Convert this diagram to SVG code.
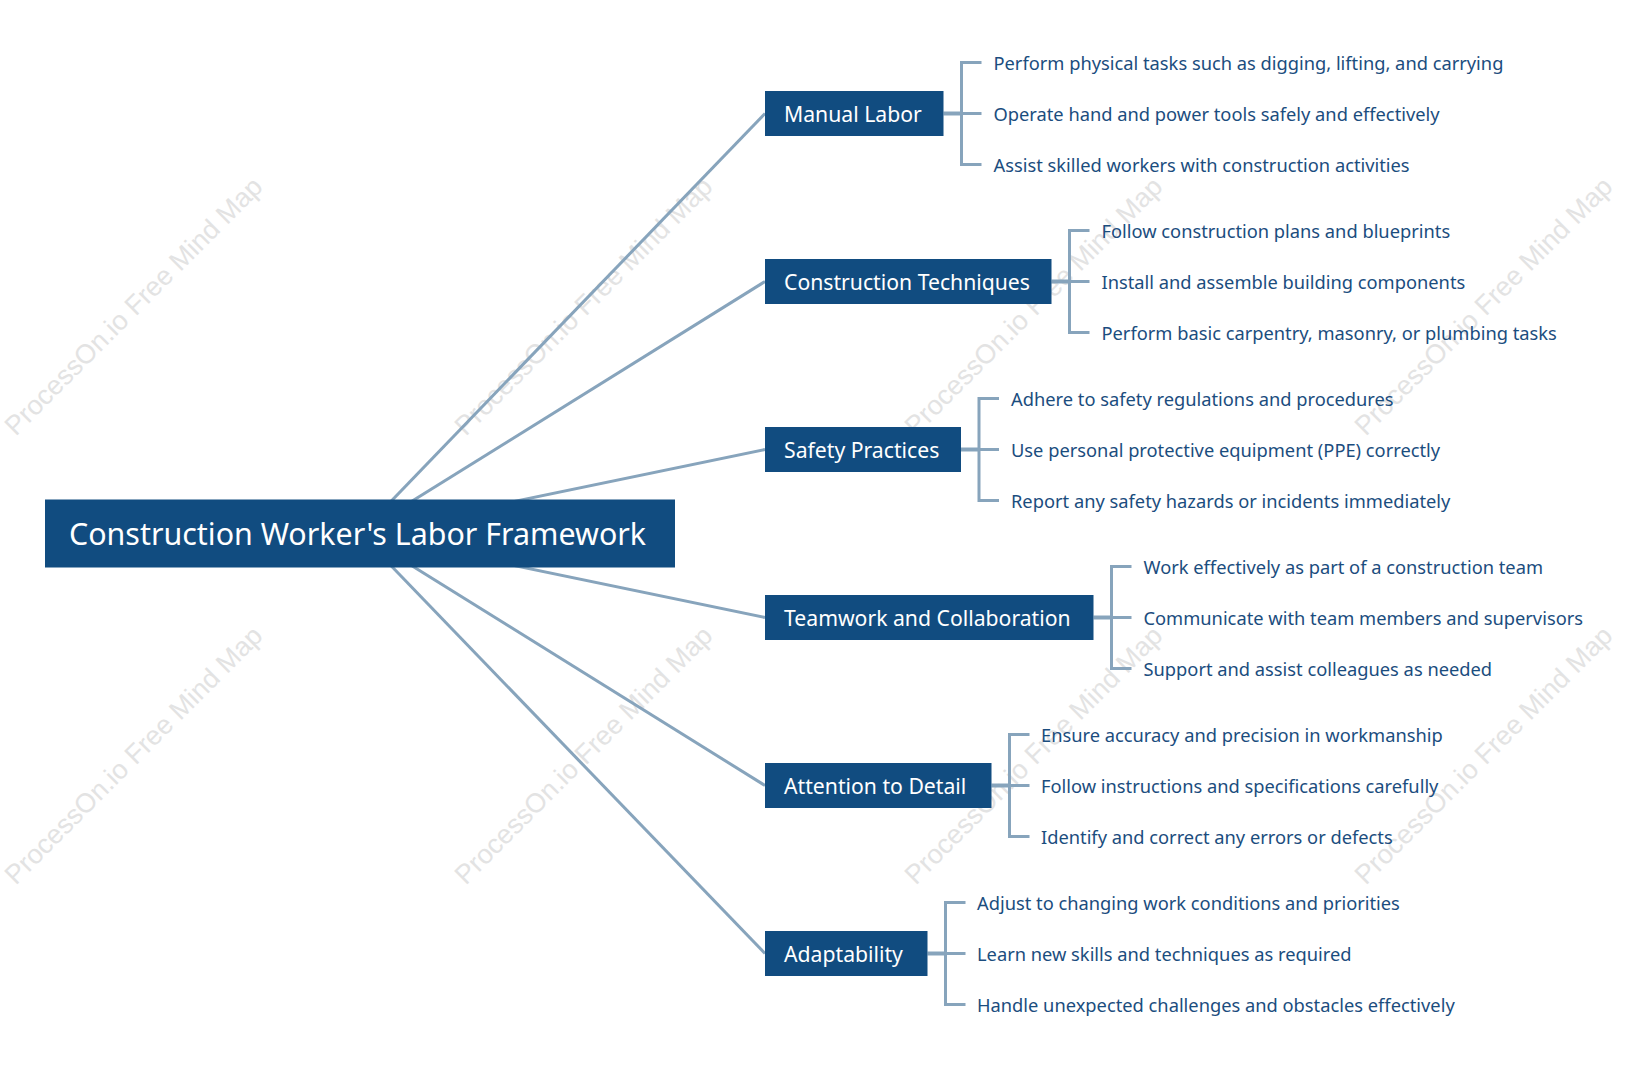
<svg xmlns="http://www.w3.org/2000/svg" width="1645" height="1083" viewBox="0 0 1645 1083">
<style>
.wm{font-family:"Liberation Sans",Arial,sans-serif;font-size:27px;fill:#e3e3e3}
.main{fill:none;stroke:#87a4bc;stroke-width:3}
.br{fill:none;stroke:#87a4bc;stroke-width:3}
.st{fill:none;stroke:#87a4bc;stroke-width:4}
.nb{fill:#114c80}
.nt{font-family:"Noto Sans","Open Sans",sans-serif;font-size:21.2px;fill:#ffffff;dominant-baseline:central}
.rt{font-family:"Noto Sans","Open Sans",sans-serif;font-size:30.4px;fill:#ffffff;dominant-baseline:central}
.lt{font-family:"Noto Sans","Open Sans",sans-serif;font-size:18.3px;fill:#1b4d7e;dominant-baseline:central}
</style>
<rect width="1645" height="1083" fill="#ffffff"/>
<g id="watermarks">
<text class="wm" text-anchor="middle" transform="translate(140,312.5) rotate(-45)">ProcessOn.io Free Mind Map</text>
<text class="wm" text-anchor="middle" transform="translate(590,312.5) rotate(-45)">ProcessOn.io Free Mind Map</text>
<text class="wm" text-anchor="middle" transform="translate(1040,312.5) rotate(-45)">ProcessOn.io Free Mind Map</text>
<text class="wm" text-anchor="middle" transform="translate(1490,312.5) rotate(-45)">ProcessOn.io Free Mind Map</text>
<text class="wm" text-anchor="middle" transform="translate(140,761.5) rotate(-45)">ProcessOn.io Free Mind Map</text>
<text class="wm" text-anchor="middle" transform="translate(590,761.5) rotate(-45)">ProcessOn.io Free Mind Map</text>
<text class="wm" text-anchor="middle" transform="translate(1040,761.5) rotate(-45)">ProcessOn.io Free Mind Map</text>
<text class="wm" text-anchor="middle" transform="translate(1490,761.5) rotate(-45)">ProcessOn.io Free Mind Map</text>
</g>
<g id="connectors">
<path class="main" d="M360 533.5 L765 113.5"/>
<path class="main" d="M360 533.5 L765 281.5"/>
<path class="main" d="M360 533.5 L765 449.5"/>
<path class="main" d="M360 533.5 L765 617.5"/>
<path class="main" d="M360 533.5 L765 785.5"/>
<path class="main" d="M360 533.5 L765 953.5"/>
<path class="st" d="M943.5 113.5 H961.5"/>
<path class="br" d="M961.5 113.5 H981.5 M981.5 62.5 H961.5 V164.5 H981.5"/>
<path class="st" d="M1051.5 281.5 H1069.5"/>
<path class="br" d="M1069.5 281.5 H1089.5 M1089.5 230.5 H1069.5 V332.5 H1089.5"/>
<path class="st" d="M961 449.5 H979"/>
<path class="br" d="M979 449.5 H999 M999 398.5 H979 V500.5 H999"/>
<path class="st" d="M1093.5 617.5 H1111.5"/>
<path class="br" d="M1111.5 617.5 H1131.5 M1131.5 566.5 H1111.5 V668.5 H1131.5"/>
<path class="st" d="M991.5 785.5 H1009.5"/>
<path class="br" d="M1009.5 785.5 H1029.5 M1029.5 734.5 H1009.5 V836.5 H1029.5"/>
<path class="st" d="M927.5 953.5 H945.5"/>
<path class="br" d="M945.5 953.5 H965.5 M965.5 902.5 H945.5 V1004.5 H965.5"/>
</g>
<g id="root">
<rect class="nb" x="45" y="499.5" width="630" height="68"/>
<text class="rt" x="69" y="533.5">Construction Worker's Labor Framework</text>
</g>
<g id="manual-labor">
<rect class="nb" x="765" y="91" width="178.5" height="45"/>
<text class="nt" x="784" y="113.5">Manual Labor</text>
<text class="lt" x="993.5" y="62.5">Perform physical tasks such as digging, lifting, and carrying</text>
<text class="lt" x="993.5" y="113.5">Operate hand and power tools safely and effectively</text>
<text class="lt" x="993.5" y="164.5">Assist skilled workers with construction activities</text>
</g>
<g id="construction-techniques">
<rect class="nb" x="765" y="259" width="286.5" height="45"/>
<text class="nt" x="784" y="281.5">Construction Techniques</text>
<text class="lt" x="1101.5" y="230.5">Follow construction plans and blueprints</text>
<text class="lt" x="1101.5" y="281.5">Install and assemble building components</text>
<text class="lt" x="1101.5" y="332.5">Perform basic carpentry, masonry, or plumbing tasks</text>
</g>
<g id="safety-practices">
<rect class="nb" x="765" y="427" width="196" height="45"/>
<text class="nt" x="784" y="449.5">Safety Practices</text>
<text class="lt" x="1011" y="398.5">Adhere to safety regulations and procedures</text>
<text class="lt" x="1011" y="449.5">Use personal protective equipment (PPE) correctly</text>
<text class="lt" x="1011" y="500.5">Report any safety hazards or incidents immediately</text>
</g>
<g id="teamwork">
<rect class="nb" x="765" y="595" width="328.5" height="45"/>
<text class="nt" x="784" y="617.5">Teamwork and Collaboration</text>
<text class="lt" x="1143.5" y="566.5">Work effectively as part of a construction team</text>
<text class="lt" x="1143.5" y="617.5">Communicate with team members and supervisors</text>
<text class="lt" x="1143.5" y="668.5">Support and assist colleagues as needed</text>
</g>
<g id="attention-to-detail">
<rect class="nb" x="765" y="763" width="226.5" height="45"/>
<text class="nt" x="784" y="785.5">Attention to Detail</text>
<text class="lt" x="1041" y="734.5">Ensure accuracy and precision in workmanship</text>
<text class="lt" x="1041" y="785.5">Follow instructions and specifications carefully</text>
<text class="lt" x="1041" y="836.5">Identify and correct any errors or defects</text>
</g>
<g id="adaptability">
<rect class="nb" x="765" y="931" width="162.5" height="45"/>
<text class="nt" x="784" y="953.5">Adaptability</text>
<text class="lt" x="977" y="902.5">Adjust to changing work conditions and priorities</text>
<text class="lt" x="977" y="953.5">Learn new skills and techniques as required</text>
<text class="lt" x="977" y="1004.5">Handle unexpected challenges and obstacles effectively</text>
</g>
</svg>
